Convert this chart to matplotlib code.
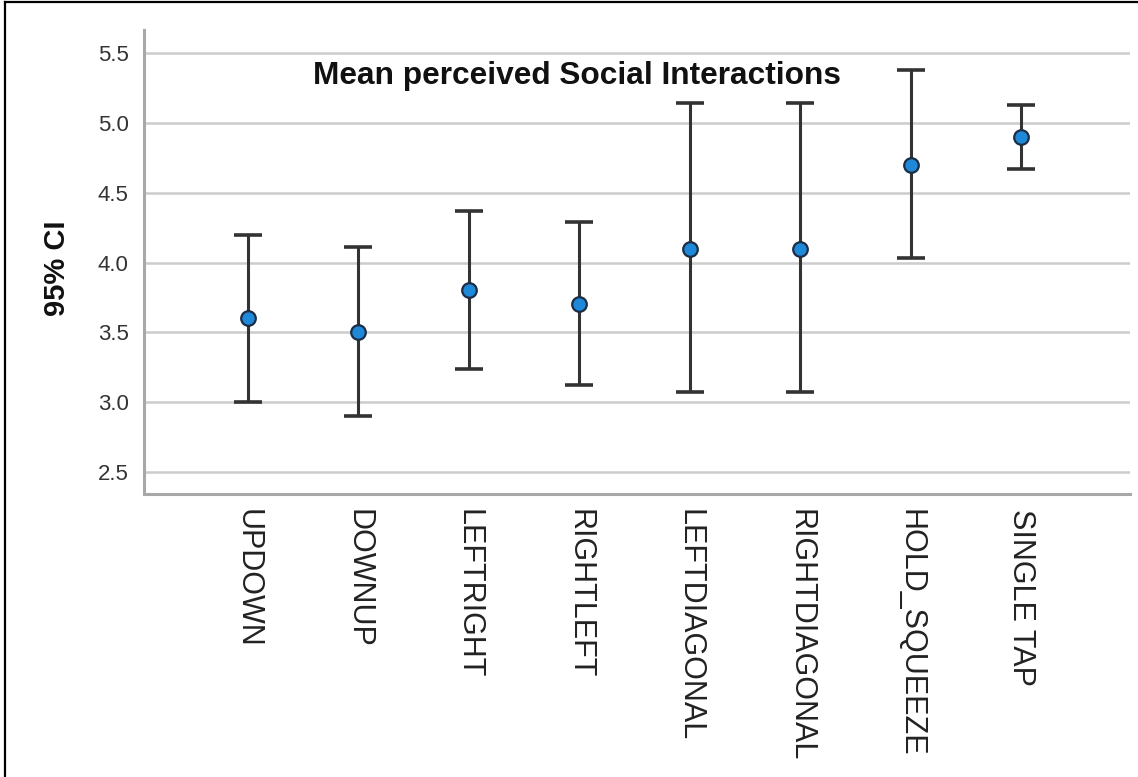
import matplotlib
matplotlib.use("Agg")
import matplotlib.pyplot as plt
from matplotlib.lines import Line2D
import numpy as np

plt.rcParams['font.family'] = ['Liberation Sans', 'DejaVu Sans']

categories = ["UPDOWN", "DOWNUP", "LEFTRIGHT", "RIGHTLEFT", "LEFTDIAGONAL",
              "RIGHTDIAGONAL", "HOLD_SQUEEZE", "SINGLE TAP"]
means = [3.60, 3.50, 3.80, 3.70, 4.10, 4.10, 4.70, 4.90]
ci_lower = [3.00, 2.90, 3.24, 3.12, 3.07, 3.07, 4.03, 4.67]
ci_upper = [4.20, 4.11, 4.37, 4.29, 5.14, 5.14, 5.38, 5.13]
yticks = [2.5, 3.0, 3.5, 4.0, 4.5, 5.0, 5.5]
ytick_labels = ["2.5", "3.0", "3.5", "4.0", "4.5", "5.0", "5.5"]

W, H = 1138, 777
fig = plt.figure(figsize=(W / 100, H / 100), dpi=100)
ax = fig.add_axes([144 / W, 1 - 494 / H, (1130 - 144) / W, (494 - 30) / H])

x = np.arange(len(categories))
m = np.array(means)
lo = m - np.array(ci_lower)
hi = np.array(ci_upper) - m

ax.errorbar(x, m, yerr=[lo, hi], fmt='none', ecolor='#333333', elinewidth=2.2,
            capsize=10, capthick=2.6, zorder=3)
ax.plot(x, m, 'o', markersize=10.5, markerfacecolor='#1e88d9',
        markeredgecolor='#1c2d44', markeredgewidth=1.6, zorder=4)

ax.set_xlim(-0.942, 7.987)
ax.set_ylim(2.3425, 5.665)
ax.set_yticks(yticks)
ax.set_yticklabels(ytick_labels, fontsize=16, color='#333333')
ax.set_xticks(x)
ax.set_xticklabels(categories, rotation=270, fontsize=22, color='#222222',
                   ha='center', va='top')
ax.tick_params(axis='both', length=0)
ax.tick_params(axis='y', pad=11)
ax.tick_params(axis='x', pad=11)

ax.grid(axis='y', color='#cccccc', linewidth=1.8, zorder=0)
ax.set_axisbelow(True)
for s in ['top', 'right']:
    ax.spines[s].set_visible(False)
for s in ['left', 'bottom']:
    ax.spines[s].set_color('#a8a8a8')
    ax.spines[s].set_linewidth(2.2)

fig.text(576.5 / W, 1 - 76 / H, "Mean perceived Social Interactions",
         fontsize=22.8, fontweight='bold', ha='center', va='center', color='#111111')
fig.text(57 / W, 1 - 268 / H, "95% CI", fontsize=21, fontweight='bold',
         rotation=90, ha='center', va='center', color='#111111')

# outer border (top and left)
fig.add_artist(Line2D([5 / W, 1], [1 - 2 / H, 1 - 2 / H], transform=fig.transFigure,
                      color='black', linewidth=1.6))
fig.add_artist(Line2D([5 / W, 5 / W], [0, 1 - 2 / H], transform=fig.transFigure,
                      color='black', linewidth=1.6))

fig.savefig("out.png", dpi=100)
